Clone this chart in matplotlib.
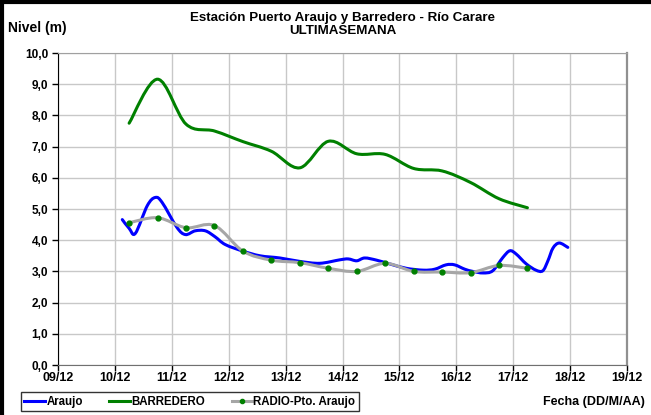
import numpy as np
import matplotlib
matplotlib.use("Agg")
import matplotlib.pyplot as plt
from matplotlib.path import Path
from matplotlib.patches import PathPatch
from matplotlib.lines import Line2D

plt.rcParams['font.family'] = ['Liberation Sans', 'DejaVu Sans']
plt.rcParams['font.weight'] = 'bold'

# days counted from 09/12 00:00
date_labels = ["09/12", "10/12", "11/12", "12/12", "13/12", "14/12",
               "15/12", "16/12", "17/12", "18/12", "19/12"]
nivel_ticks = [0, 1, 2, 3, 4, 5, 6, 7, 8, 9, 10]

araujo_day = [1.13, 1.25, 1.36, 1.57, 1.71, 1.83, 2.09, 2.24, 2.41, 2.59,
              2.76, 2.94, 3.25, 3.55, 3.90, 4.25, 4.60, 4.95, 5.10, 5.25,
              5.39, 5.60, 5.83, 6.12, 6.42, 6.62, 6.82, 6.97, 7.15, 7.29,
              7.47, 7.64, 7.82, 7.94, 8.05, 8.23, 8.40, 8.52, 8.61, 8.70,
              8.81, 8.96]
araujo_nivel = [4.66, 4.38, 4.22, 5.11, 5.37, 5.21, 4.41, 4.18, 4.30, 4.30,
                4.11, 3.86, 3.65, 3.50, 3.43, 3.32, 3.26, 3.37, 3.40, 3.34,
                3.43, 3.36, 3.24, 3.10, 3.04, 3.07, 3.21, 3.21, 3.07, 3.00,
                2.95, 3.02, 3.45, 3.66, 3.56, 3.24, 3.04, 3.02, 3.34, 3.75,
                3.91, 3.77]

barredero_day = [1.25, 1.75, 2.25, 2.75, 3.25, 3.75, 4.25, 4.75, 5.25,
                 5.75, 6.25, 6.75, 7.25, 7.75, 8.25]
barredero_nivel = [7.75, 9.16, 7.72, 7.50, 7.16, 6.85, 6.32, 7.17, 6.77,
                   6.75, 6.30, 6.22, 5.85, 5.33, 5.04]

radio_day = [1.25, 1.75, 2.25, 2.75, 3.25, 3.75, 4.25, 4.75, 5.25, 5.75,
             6.25, 6.75, 7.25, 7.75, 8.25]
radio_nivel = [4.56, 4.72, 4.40, 4.47, 3.65, 3.36, 3.28, 3.10, 3.00, 3.26,
               3.00, 2.98, 2.96, 3.19, 3.10]


def smooth_path(x, y):
    # bezier through the points, like a spreadsheet "smoothed line"
    pts = np.column_stack([x, y]).astype(float)
    p = np.vstack([pts[0], pts, pts[-1]])
    verts = [pts[0]]
    codes = [Path.MOVETO]
    for i in range(1, len(p) - 2):
        c1 = p[i] + (p[i + 1] - p[i - 1]) / 6
        c2 = p[i + 1] - (p[i + 2] - p[i]) / 6
        verts += [c1, c2, p[i + 1]]
        codes += [Path.CURVE4] * 3
    return Path(verts, codes)


fig = plt.figure(figsize=(6.51, 4.15), dpi=100)
ax = fig.add_axes([58 / 651, 1 - 365 / 415, (627 - 58) / 651, (365 - 53) / 415])

blue = '#0000ff'
green = '#008000'
gray = '#a6a6a6'

ax.add_patch(PathPatch(smooth_path(araujo_day, araujo_nivel), fill=False,
                       edgecolor=blue, lw=2.2, capstyle='round', zorder=3))
ax.add_patch(PathPatch(smooth_path(barredero_day, barredero_nivel), fill=False,
                       edgecolor=green, lw=2.2, capstyle='round', zorder=3))
ax.add_patch(PathPatch(smooth_path(radio_day, radio_nivel), fill=False,
                       edgecolor=gray, lw=2.2, capstyle='round', zorder=4))
ax.plot(radio_day, radio_nivel, 'o', ms=3.5, color=green, mec=green, zorder=5)

ax.set_xlim(0, 10)
ax.set_ylim(0, 10)
ax.set_xticks(range(len(date_labels)))
ax.set_xticklabels(date_labels, fontsize=9)
ax.set_yticks(nivel_ticks)
ax.set_yticklabels([f"{v:.1f}".replace('.', ',') for v in nivel_ticks],
                   fontsize=8.5)
ax.tick_params(axis='both', direction='out', length=4,
               width=1, colors='black')
ax.tick_params(axis='x', pad=1)
ax.tick_params(axis='y', pad=3)
ax.grid(True, color='#c8c8c8', lw=1)
ax.set_axisbelow(True)

ax.spines['left'].set_color('black')
ax.spines['bottom'].set_color('#707070')
ax.spines['top'].set_color('#a0a0a0')
ax.spines['right'].set_color('#909090')
ax.spines['right'].set_linewidth(1.6)

fig.text(343 / 651, 1 - 18 / 415, "Estación Puerto Araujo y Barredero - Río Carare",
         ha='center', va='center', fontsize=9.6, fontweight='bold')
fig.text(343 / 651, 1 - 31 / 415, "ULTIMASEMANA",
         ha='center', va='center', fontsize=9.6, fontweight='bold')
fig.text(8 / 651, 1 - 28 / 415, "Nivel (m)", ha='left', va='center',
         fontsize=10, fontweight='bold')
fig.text(645 / 651, 1 - 402 / 415, "Fecha (DD/M/AA)", ha='right', va='center',
         fontsize=9, fontweight='bold')

handles = [Line2D([], [], color=blue, lw=2.2),
           Line2D([], [], color=green, lw=2.2),
           Line2D([], [], color=gray, lw=2.2, marker='o', ms=3,
                  mfc=green, mec=green)]
leg = fig.legend(handles, ["Araujo", "BARREDERO", "RADIO-Pto. Araujo"],
                 loc='lower left', bbox_to_anchor=(21 / 651, 4 / 415),
                 ncol=3, fontsize=8.3, frameon=True, fancybox=False,
                 edgecolor='black', borderpad=0.3, handlelength=1.8,
                 handletextpad=0.1, columnspacing=2.3, borderaxespad=0)
leg.get_frame().set_linewidth(1)

# thick black border on the left and top edges of the picture
fig.add_artist(Line2D([2 / 651, 2 / 651], [0, 1], transform=fig.transFigure,
                      color='black', lw=3))
fig.add_artist(Line2D([0, 1], [1 - 2 / 415, 1 - 2 / 415],
                      transform=fig.transFigure, color='black', lw=3))

fig.savefig("out.png", dpi=100)
